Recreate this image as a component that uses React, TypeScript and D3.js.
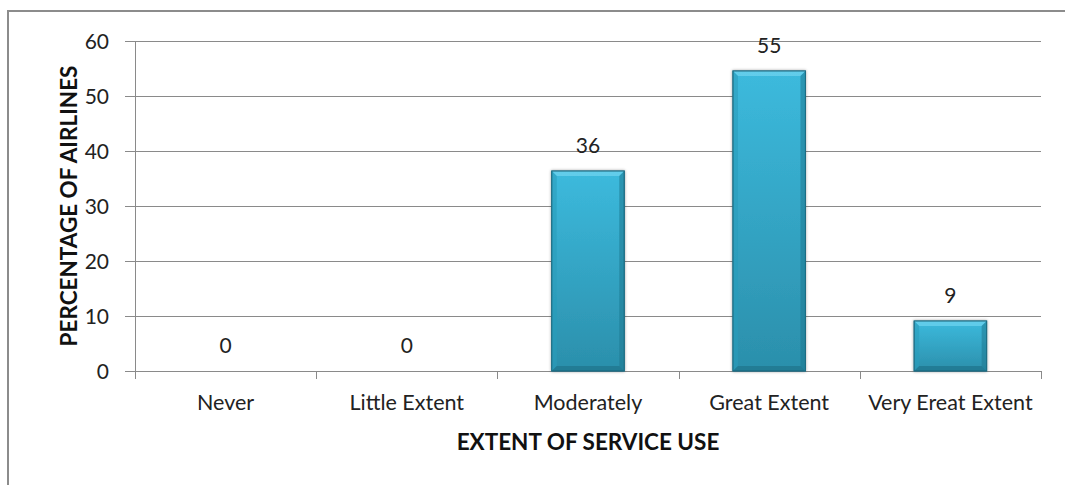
import React from "react";
import * as d3 from "d3";

const categories = ["Never", "Little Extent", "Moderately", "Great Extent", "Very Ereat Extent"];
const percentages = [0, 0, 36.36, 54.55, 9.09];
const yTicks = [0, 10, 20, 30, 40, 50, 60];

const W = 1065;
const H = 485;
const plot = { left: 135, right: 1041, top: 41, bottom: 371 };
const FONT = "Lato, 'Open Sans', sans-serif";

export default function App() {
  const x = d3
    .scaleBand<string>()
    .domain(categories)
    .range([plot.left, plot.right])
    .paddingInner(0.6)
    .paddingOuter(0.3);
  const xStep = (plot.right - plot.left) / categories.length;
  const y = d3.scaleLinear().domain([0, 60]).range([plot.bottom, plot.top]);
  const fmt = d3.format(".0f");
  const bw = x.bandwidth();
  const bev = 5;

  return (
    <svg
      width={W}
      height={H}
      style={{ position: "absolute", left: 0, top: 0, background: "#fff" }}
      fontFamily={FONT}
    >
      <defs>
        <linearGradient id="barFill" x1="0" y1="0" x2="0" y2="1">
          <stop offset="0%" stopColor="#3cbadd" />
          <stop offset="100%" stopColor="#2b8fab" />
        </linearGradient>
        <filter id="barShadow" x="-20%" y="-20%" width="140%" height="140%">
          <feGaussianBlur in="SourceAlpha" stdDeviation="1.5" />
          <feOffset dx="0" dy="0" result="b" />
          <feComponentTransfer>
            <feFuncA type="linear" slope="0.35" />
          </feComponentTransfer>
          <feMerge>
            <feMergeNode />
            <feMergeNode in="SourceGraphic" />
          </feMerge>
        </filter>
      </defs>

      {/* chart frame */}
      <rect x={8} y={11} width={W + 10} height={H + 10} fill="#fff" stroke="#8c8c8c" strokeWidth={2} />

      {/* gridlines and value ticks */}
      {yTicks.map((t) => (
        <g key={t}>
          <line x1={plot.left - 10} x2={plot.right} y1={y(t) + 0.5} y2={y(t) + 0.5} stroke="#8a8a8a" strokeWidth={1} />
          <text x={109} y={y(t)} dy="0.36em" textAnchor="end" fontSize={21} fill="#222">
            {t}
          </text>
        </g>
      ))}

      {/* axes */}
      <line x1={plot.left + 0.5} x2={plot.left + 0.5} y1={plot.top} y2={plot.bottom + 8} stroke="#8a8a8a" />
      {d3.range(categories.length + 1).map((i) => (
        <line
          key={i}
          x1={Math.round(plot.left + i * xStep) + 0.5}
          x2={Math.round(plot.left + i * xStep) + 0.5}
          y1={plot.bottom}
          y2={plot.bottom + 8}
          stroke="#8a8a8a"
        />
      ))}

      {/* bars */}
      {categories.map((c, i) => {
        const v = percentages[i];
        const x0 = x(c)!;
        const y0 = y(v);
        const h = plot.bottom - y0;
        const cx = x0 + bw / 2;
        return (
          <g key={c}>
            {h > 0 && (
              <g filter="url(#barShadow)">
                <rect x={x0} y={y0} width={bw} height={h} fill="url(#barFill)" stroke="#22738a" strokeWidth={1} />
                <polygon
                  points={`${x0},${y0} ${x0 + bw},${y0} ${x0 + bw - bev},${y0 + bev} ${x0 + bev},${y0 + bev}`}
                  fill="#6fd3ef"
                  opacity={0.75}
                />
                <polygon
                  points={`${x0},${y0} ${x0 + bev},${y0 + bev} ${x0 + bev},${y0 + h - bev} ${x0},${y0 + h}`}
                  fill="#2a9cbb"
                  opacity={0.6}
                />
                <polygon
                  points={`${x0 + bw},${y0} ${x0 + bw - bev},${y0 + bev} ${x0 + bw - bev},${y0 + h - bev} ${x0 + bw},${y0 + h}`}
                  fill="#1f7890"
                  opacity={0.55}
                />
                <polygon
                  points={`${x0},${y0 + h} ${x0 + bev},${y0 + h - bev} ${x0 + bw - bev},${y0 + h - bev} ${x0 + bw},${y0 + h}`}
                  fill="#1c6e86"
                  opacity={0.6}
                />
                <rect x={x0} y={y0} width={bw} height={h} fill="none" stroke="#1f6d83" strokeWidth={1} />
              </g>
            )}
            <text x={cx} y={y0 - 18} textAnchor="middle" fontSize={21} fill="#222">
              {fmt(v)}
            </text>
            <text x={cx} y={410} textAnchor="middle" fontSize={21.5} fill="#222">
              {c}
            </text>
          </g>
        );
      })}

      {/* axis titles */}
      <text x={(plot.left + plot.right) / 2} y={450} textAnchor="middle" fontSize={22.5} fontWeight="bold" fill="#111">
        EXTENT OF SERVICE USE
      </text>
      <text
        transform={`translate(69, ${(plot.top + plot.bottom) / 2}) rotate(-90)`}
        textAnchor="middle"
        fontSize={22.5}
        fontWeight="bold"
        fill="#111"
        dy="0.35em"
      >
        PERCENTAGE OF AIRLINES
      </text>
    </svg>
  );
}
